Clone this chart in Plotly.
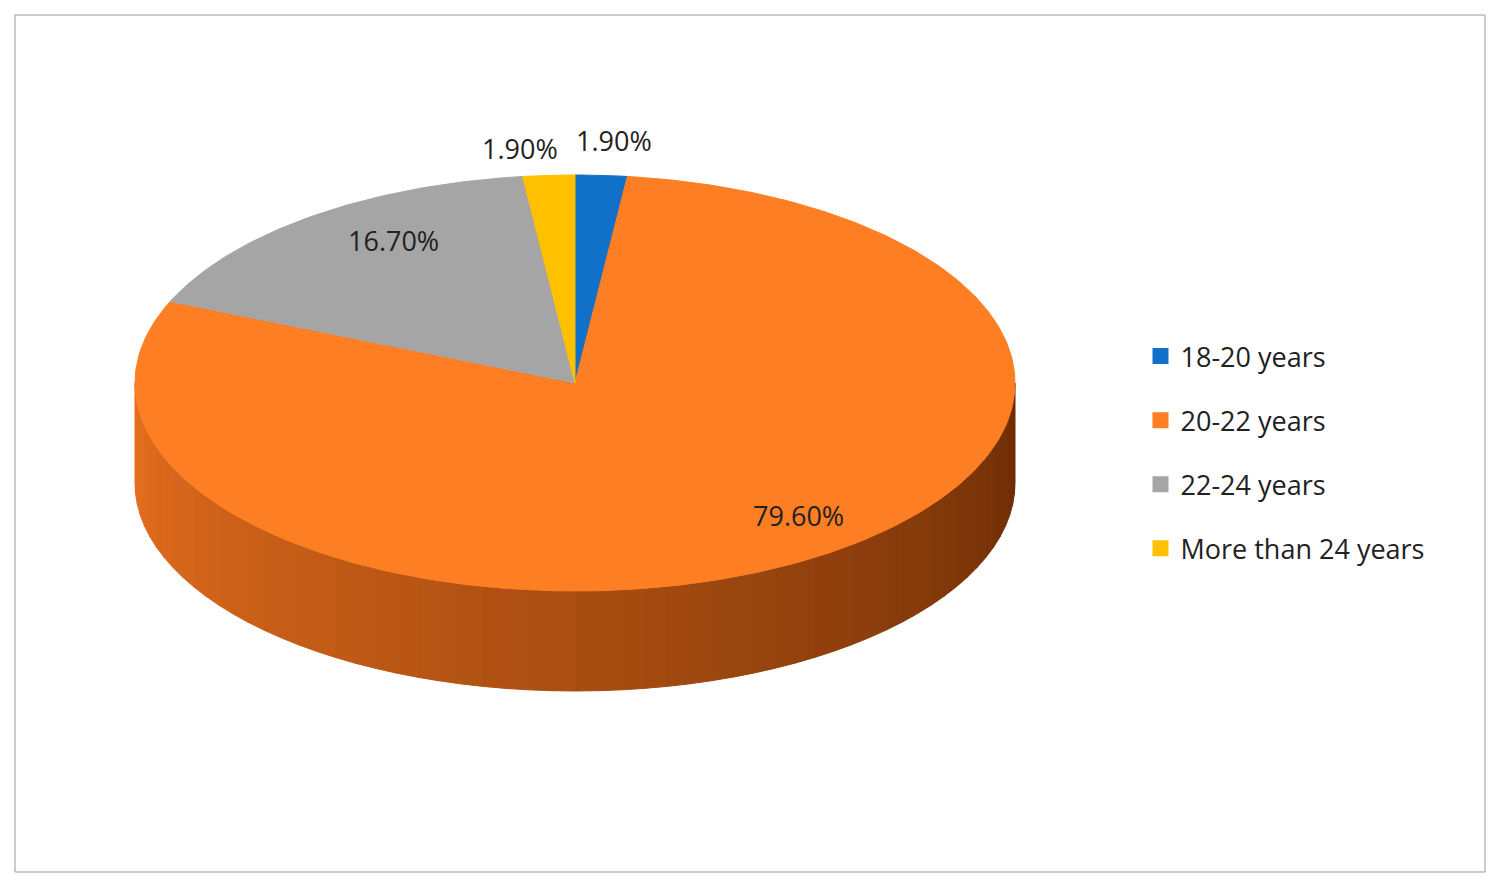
import numpy as np
import plotly.graph_objects as go

categories = ["18-20 years", "20-22 years", "22-24 years", "More than 24 years"]
values = [1.9, 79.6, 16.7, 1.9]
labels = ["1.90%", "79.60%", "16.70%", "1.90%"]
colors = ["#1170c8", "#fd7e23", "#a5a5a5", "#ffc000"]

W, H = 1500, 889
cx, cy, rx, ry, depth = 575, 383, 440, 208, 100

fig = go.Figure()

def pt(theta, dy=0):
    return cx + rx*np.sin(theta), cy - ry*np.cos(theta) + dy

n = 60
ths = np.linspace(np.pi/2, 3*np.pi/2, n+1)
c0 = np.array([0x6b, 0x2c, 0x05]); c1 = np.array([0xe8, 0x70, 0x1f])
for i in range(n):
    t = np.linspace(ths[i], ths[i+1], 4)
    x1, y1 = pt(t); x2, y2 = pt(t[::-1], depth)
    f = (i+0.5)/n
    c = (c0 + (c1-c0)*f).astype(int)
    col = "rgb(%d,%d,%d)" % tuple(c)
    fig.add_trace(go.Scatter(x=np.r_[x1, x2, x1[0]], y=np.r_[y1, y2, y1[0]], fill="toself",
                             fillcolor=col, line=dict(color=col, width=1), mode="lines",
                             showlegend=False, hoverinfo="skip"))

total = sum(values)
start = 0.0
for cat, v, col in zip(categories, values, colors):
    a0 = start/total*2*np.pi; a1 = (start+v)/total*2*np.pi
    t = np.linspace(a0, a1, max(int(v*4), 10))
    x, y = pt(t)
    fig.add_trace(go.Scatter(x=np.r_[cx, x, cx], y=np.r_[cy, y, cy], fill="toself",
                             fillcolor=col, line=dict(color=col, width=1), mode="lines",
                             showlegend=False, hoverinfo="skip"))
    start += v

for cat, col in zip(categories, colors):
    fig.add_trace(go.Scatter(x=[None], y=[None], mode="markers", name=cat, legendgroup=cat,
                             marker=dict(symbol="square", size=18, color=col)))

label_pos = [(614, 140), (798, 515), (393, 240), (520, 148)]
for (lx, ly), txt in zip(label_pos, labels):
    fig.add_annotation(x=lx, y=ly, text=txt, showarrow=False,
                       font=dict(size=27, color="#222", family="Open Sans"))

fig.add_shape(type="rect", x0=15, y0=15, x1=1485, y1=872, line=dict(color="#999", width=1))

fig.update_xaxes(range=[8, W+8], visible=False)
fig.update_yaxes(range=[H+8, 8], visible=False)
fig.update_layout(width=W, height=H, margin=dict(l=0, r=0, t=0, b=0),
                  plot_bgcolor="white", paper_bgcolor="white",
                  legend=dict(x=0.755, y=0.5, yanchor="middle",
                              font=dict(size=27, family="Open Sans", color="#222"),
                              tracegroupgap=26, itemwidth=30))
fig.write_html("out.html")
